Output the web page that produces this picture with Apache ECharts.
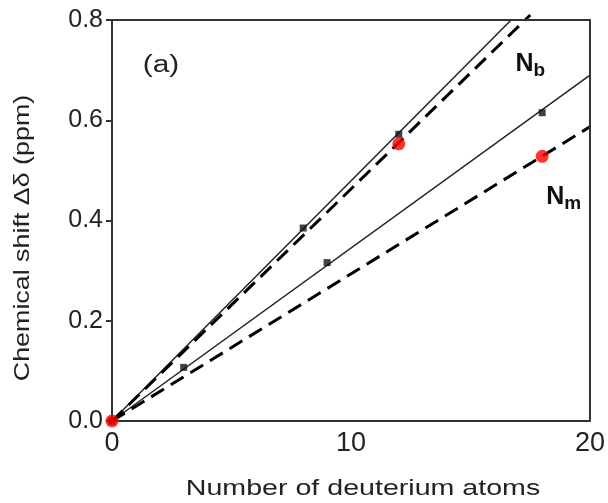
<!DOCTYPE html>
<html lang="en">
<head>
    <meta charset="UTF-8">
    <title>Chemical shift</title>
    <script src="https://cdn.jsdelivr.net/npm/echarts@6/dist/echarts.min.js"></script>
    <style>
        html, body { margin: 0; padding: 0; background: #fff; }
        #chart { width: 608px; height: 503px; }
    </style>
</head>
<body>
    <div id="chart"></div>
    <script>
        // measured points (black squares)
        var nbMeasured = [[0, 0], [8, 0.385], [12, 0.572]];
        var nmMeasured = [[0, 0], [3, 0.107], [9, 0.316], [18, 0.615]];
        // calculated points (red dots)
        var calcPoints = [[0, 0], [12, 0.553], [18, 0.528]];
        // fitted lines (end points)
        var nbSolid = [[0, 0], [16.7, 0.8]];
        var nbDashed = [[0, 0], [17.5, 0.81]];
        var nmSolid = [[0, 0], [20, 0.69]];
        var nmDashed = [[0, 0], [20, 0.587]];
        var xTicks = [0, 10, 20];
        var yTicks = [0, 0.2, 0.4, 0.6, 0.8];

        var font = 'Liberation Sans, Arial, sans-serif';
        var myChart = echarts.init(document.getElementById('chart'));

        var option = {
            animation: false,
            grid: { left: 112, right: 13, top: 20, bottom: 82, show: false },
            xAxis: {
                type: 'value', min: 0, max: 20, interval: 10,
                axisLine: { onZero: false, lineStyle: { color: '#333', width: 2 } },
                axisTick: { show: false },
                splitLine: { show: false },
                axisLabel: {
                    fontFamily: font, fontSize: 27, color: '#222', margin: 9,
                    formatter: function (v) { return xTicks.indexOf(v) >= 0 ? String(v) : ''; }
                }
            },
            yAxis: {
                type: 'value', min: 0, max: 0.8, interval: 0.2,
                axisLine: { onZero: false, lineStyle: { color: '#333', width: 2 } },
                axisTick: { show: true, inside: false, length: 6, lineStyle: { color: '#333', width: 2 } },
                splitLine: { show: false },
                axisLabel: {
                    fontFamily: font, fontSize: 25, color: '#222', margin: 9,
                    formatter: function (v) { return v.toFixed(1); }
                }
            },
            series: [
                {
                    type: 'line', data: nbSolid, symbol: 'none', z: 2,
                    lineStyle: { color: '#222', width: 1.5 }
                },
                {
                    type: 'line', data: nmSolid, symbol: 'none', z: 2,
                    lineStyle: { color: '#222', width: 1.5 }
                },
                {
                    type: 'line', data: nbDashed, symbol: 'none', z: 3, clip: false,
                    lineStyle: { color: '#000', width: 3, type: [15, 8] }
                },
                {
                    type: 'line', data: nmDashed, symbol: 'none', z: 3,
                    lineStyle: { color: '#000', width: 3, type: [15, 8] }
                },
                {
                    type: 'scatter', data: nbMeasured, symbol: 'rect', symbolSize: 7, z: 4,
                    itemStyle: { color: '#111' }
                },
                {
                    type: 'scatter', data: nmMeasured, symbol: 'rect', symbolSize: 7, z: 4,
                    itemStyle: { color: '#111' }
                },
                {
                    type: 'scatter', data: calcPoints, symbol: 'circle', symbolSize: 13, z: 5,
                    clip: false,
                    itemStyle: { color: '#f00' }
                }
            ]
        };
        myChart.setOption(option);

        // frame, axis titles and annotations
        var topRight = myChart.convertToPixel('grid', [20, 0.8]);
        var origin = myChart.convertToPixel('grid', [0, 0]);
        var pb = myChart.convertToPixel('grid', [16.88, 0.744]);
        var pm = myChart.convertToPixel('grid', [18.17, 0.478]);
        var subRich = {
            n: { fontFamily: font, fontSize: 25, fontWeight: 'bold', fill: '#111' },
            s: { fontFamily: font, fontSize: 19, fontWeight: 'bold', fill: '#111', padding: [13, 0, 0, 0] }
        };
        myChart.setOption({
            graphic: [
                {
                    type: 'polyline', z: 10,
                    shape: { points: [[origin[0], topRight[1]], [topRight[0], topRight[1]], [topRight[0], origin[1]]] },
                    style: { stroke: '#333', lineWidth: 2, fill: null }
                },
                {
                    type: 'text', x: 363, y: 489, scaleX: 1.3,
                    style: { text: 'Number of deuterium atoms', font: '22px ' + font, fill: '#222', align: 'center', verticalAlign: 'middle' }
                },
                {
                    type: 'text', x: 23, y: 238, rotation: Math.PI / 2, scaleX: 1.22,
                    style: { text: 'Chemical shift \u0394\u03b4 (ppm)', font: '22px ' + font, fill: '#222', align: 'center', verticalAlign: 'middle' }
                },
                {
                    type: 'text', x: 161, y: 66, scaleX: 1.3,
                    style: { text: '(a)', font: '23px ' + font, fill: '#222', align: 'center', verticalAlign: 'middle' }
                },
                {
                    type: 'text', x: pb[0], y: pb[1],
                    style: { text: '{n|N}{s|b}', rich: subRich }
                },
                {
                    type: 'text', x: pm[0], y: pm[1],
                    style: { text: '{n|N}{s|m}', rich: subRich }
                }
            ]
        });
    </script>
</body>
</html>
